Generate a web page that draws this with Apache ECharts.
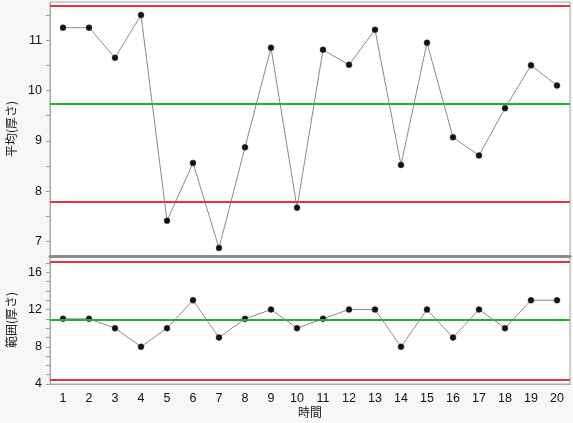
<!DOCTYPE html>
<html><head><meta charset="utf-8">
<script src="https://cdn.jsdelivr.net/npm/echarts@6/dist/echarts.min.js"></script>
<style>html,body{margin:0;padding:0;background:#f7f7f7}#c{width:573px;height:423px}</style>
</head><body><div id="c"></div>
<script>
const categories = ['1','2','3','4','5','6','7','8','9','10','11','12','13','14','15','16','17','18','19','20'];
const meanValues = [11.25, 11.25, 10.65, 11.50, 7.41, 8.56, 6.87, 8.87, 10.85, 7.67, 10.81, 10.51, 11.21, 8.52, 10.95, 9.07, 8.71, 9.65, 10.50, 10.10];
const rangeValues = [11, 11, 10, 8, 10, 13, 9, 11, 12, 10, 11, 12, 12, 8, 12, 9, 12, 10, 13, 13];
const meanLimits = [11.68, 9.73, 7.78];   // UCL, CL, LCL
const rangeLimits = [17.1, 10.85, 4.5];   // UCL, CL, LCL
const meanTickLabels = [7, 8, 9, 10, 11];
const meanTickMarks = [7, 7.5, 8, 8.5, 9, 9.5, 10, 10.5, 11, 11.5];
const rangeTickLabels = [4, 8, 12, 16];
const rangeTickMarks = [4,5,6,7,8,9,10,11,12,13,14,15,16,17];

const RED = '#e8304a', GREEN = '#20b420', GRAY = '#8c8c8c';
const numFont = {fontFamily: 'Liberation Sans', fontSize: 12.5, color: '#111'};
const cjk = 'Noto Sans CJK JP';

function limitLines(arr) {
  const cols = [RED, GREEN, RED];
  return {
    silent: true, symbol: 'none', label: {show: false}, animation: false,
    data: arr.map((v, i) => ({yAxis: v, lineStyle: {color: cols[i], width: 2, type: 'solid'}}))
  };
}

const chart = echarts.init(document.getElementById('c'));
chart.setOption({
  animation: false,
  backgroundColor: '#f7f7f7',
  grid: [
    {left: 50, right: 3, top: 2, height: 254, show: true, backgroundColor: '#fff', borderColor: '#a8a8a8', borderWidth: 1, containLabel: false, outerBoundsMode: 'none'},
    {left: 50, right: 3, top: 256, height: 128, show: true, backgroundColor: '#fff', borderColor: '#a8a8a8', borderWidth: 1, containLabel: false, outerBoundsMode: 'none'}
  ],
  xAxis: [
    {type: 'category', gridIndex: 0, data: categories, boundaryGap: true,
     axisLabel: {show: false}, axisTick: {show: false},
     axisLine: {show: true, lineStyle: {color: GRAY, width: 3}}},
    {type: 'category', gridIndex: 1, data: categories, boundaryGap: true,
     axisLabel: Object.assign({margin: 8}, numFont), axisTick: {show: false},
     axisLine: {show: true, lineStyle: {color: '#a8a8a8', width: 1}},
     name: '時間', nameLocation: 'middle', nameGap: 22,
     nameTextStyle: {fontFamily: cjk, fontSize: 12, color: '#222'}}
  ],
  yAxis: [
    {type: 'value', gridIndex: 0, min: 6.71, max: 11.76,
     splitLine: {show: false},
     axisLine: {show: true, lineStyle: {color: '#a8a8a8'}},
     axisTick: {show: true, length: 4, customValues: meanTickMarks, lineStyle: {color: '#999'}},
     axisLabel: Object.assign({margin: 8, customValues: meanTickLabels}, numFont),
     name: '平均(厚さ)', nameLocation: 'middle', nameGap: 32,
     nameTextStyle: {fontFamily: cjk, fontSize: 12, color: '#222'}},
    {type: 'value', gridIndex: 1, min: 4, max: 17.75,
     splitLine: {show: false},
     axisLine: {show: true, lineStyle: {color: '#a8a8a8'}},
     axisTick: {show: true, length: 4, customValues: rangeTickMarks, lineStyle: {color: '#999'}},
     axisLabel: Object.assign({margin: 8, customValues: rangeTickLabels}, numFont),
     name: '範囲(厚さ)', nameLocation: 'middle', nameGap: 32,
     nameTextStyle: {fontFamily: cjk, fontSize: 12, color: '#222'}}
  ],
  series: [
    {type: 'line', xAxisIndex: 0, yAxisIndex: 0, data: meanValues,
     symbol: 'circle', symbolSize: 6,
     itemStyle: {color: '#111', borderColor: '#444', borderWidth: 0.5},
     lineStyle: {color: '#8a8a8a', width: 1},
     markLine: limitLines(meanLimits), z: 3},
    {type: 'line', xAxisIndex: 1, yAxisIndex: 1, data: rangeValues,
     symbol: 'circle', symbolSize: 6,
     itemStyle: {color: '#111', borderColor: '#444', borderWidth: 0.5},
     lineStyle: {color: '#8a8a8a', width: 1},
     markLine: limitLines(rangeLimits), z: 3}
  ]
});
</script></body></html>
